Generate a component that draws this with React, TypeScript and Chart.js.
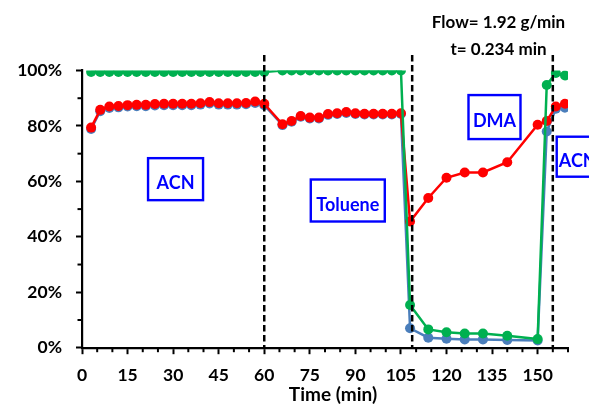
import React, { useEffect, useRef } from 'react';
import { Chart, registerables } from 'chart.js';

Chart.register(...registerables);

// ---- data ----
const timeMin = [
  3, 6, 9, 12, 15, 18, 21, 24, 27, 30, 33, 36, 39, 42, 45, 48, 51, 54, 57, 60,
  66, 69, 72, 75, 78, 81, 84, 87, 90, 93, 96, 99, 102, 105,
  108, 114, 120, 126, 132, 140, 150, 153, 156, 159,
];
const greenPct = [
  99.5, 99.5, 99.5, 99.5, 99.5, 99.5, 99.5, 99.5, 99.5, 99.5, 99.5, 99.5, 99.5, 99.5, 99.5, 99.5, 99.5, 99.5, 99.5, 99.5,
  100, 100, 100, 100, 100, 100, 100, 100, 100, 100, 100, 100, 100, 100,
  15.4, 6.6, 5.6, 5.1, 5.1, 4.3, 3.1, 94.8, 99.1, 98.2,
];
const redPct = [
  79.4, 85.8, 87.0, 87.2, 87.5, 87.6, 87.6, 87.9, 88.0, 88.0, 88.0, 88.0, 88.2, 88.6, 88.2, 88.2, 88.2, 88.3, 88.8, 88.0,
  80.6, 81.8, 83.6, 83.0, 83.0, 84.3, 84.6, 85.0, 84.6, 84.4, 84.4, 84.4, 84.4, 84.6,
  45.5, 54.0, 61.3, 63.2, 63.2, 66.9, 80.4, 81.8, 87.0, 88.0,
];
const bluePct = [
  78.9, 85.3, 86.5, 86.7, 87.0, 87.1, 87.1, 87.4, 87.5, 87.5, 87.5, 87.5, 87.7, 88.1, 87.7, 87.7, 87.7, 87.8, 88.3, 87.5,
  80.3, 81.5, 83.3, 82.7, 82.7, 84.0, 84.3, 84.7, 84.3, 84.1, 84.1, 84.1, 84.1, 84.3,
  7.0, 3.6, 3.2, 3.0, 3.0, 2.8, 2.6, 78.0, 86.2, 86.6,
];
const xMajorTicks = [0, 15, 30, 45, 60, 75, 90, 105, 120, 135, 150];
const yMajorTicks = [0, 20, 40, 60, 80, 100];
const solventSwitchTimes = [60, 108.7, 155];
const solventNames = ['ACN', 'Toluene', 'DMA', 'ACN'];
const noteLines = ['Flow= 1.92 g/min', 't= 0.234 min'];
const xTitle = 'Time (min)';

// ---- annotation placement (data coordinates + box sizes) ----
const solventBoxes = [
  { x: 30.8, y: 60.8, w: 55, h: 42 },
  { x: 87.5, y: 53.1, w: 74, h: 42 },
  { x: 135.8, y: 83.2, w: 52, h: 44 },
  { x: 163.2, y: 68.9, w: 42, h: 40 },
];

const FONT = 'Lato, "Open Sans", sans-serif';
const GREEN = '#00B050';
const RED = '#FF0000';
const BLUE = '#4A7EBB';

const overlayPlugin = {
  id: 'overlay',
  afterDatasetsDraw(chart: any) {
    const { ctx, scales } = chart;
    const x = scales.x;
    const y = scales.y;
    ctx.save();
    // solvent switch dashed lines
    ctx.strokeStyle = '#000';
    ctx.lineWidth = 2.5;
    ctx.setLineDash([6.5, 3.5]);
    solventSwitchTimes.forEach((t) => {
      const px = x.getPixelForValue(t);
      ctx.beginPath();
      ctx.moveTo(px, y.getPixelForValue(105.6));
      ctx.lineTo(px, y.getPixelForValue(0));
      ctx.stroke();
    });
    ctx.setLineDash([]);
    // minor ticks
    ctx.lineWidth = 2;
    x.ticks.forEach((t: any) => {
      if (!xMajorTicks.includes(t.value)) {
        const px = x.getPixelForValue(t.value);
        ctx.beginPath();
        ctx.moveTo(px, x.top);
        ctx.lineTo(px, x.top + 4.5);
        ctx.stroke();
      }
    });
    y.ticks.forEach((t: any) => {
      if (!yMajorTicks.includes(t.value)) {
        const py = y.getPixelForValue(t.value);
        ctx.beginPath();
        ctx.moveTo(y.right, py);
        ctx.lineTo(y.right - 4.5, py);
        ctx.stroke();
      }
    });
    // solvent boxes
    solventBoxes.forEach((b, i) => {
      const cx = x.getPixelForValue(b.x);
      const cy = y.getPixelForValue(b.y);
      ctx.fillStyle = '#fff';
      ctx.fillRect(cx - b.w / 2, cy - b.h / 2, b.w, b.h);
      ctx.strokeStyle = '#0000FF';
      ctx.lineWidth = 2.4;
      ctx.strokeRect(cx - b.w / 2, cy - b.h / 2, b.w, b.h);
      ctx.fillStyle = '#0000FF';
      ctx.font = `bold 18px ${FONT}`;
      ctx.textAlign = 'center';
      ctx.textBaseline = 'alphabetic';
      ctx.fillText(solventNames[i], cx, cy + 10);
    });
    // notes
    ctx.fillStyle = '#000';
    ctx.font = `bold 17px ${FONT}`;
    ctx.textAlign = 'center';
    ctx.fillText(noteLines[0], 498.5, 28.3);
    ctx.fillText(noteLines[1], 498.5, 55);
    // axis title
    ctx.font = `bold 19px ${FONT}`;
    ctx.fillText(xTitle, 333, 401);
    ctx.restore();
  },
};

function makeSet(label: string, vals: number[], color: string) {
  return {
    label,
    data: timeMin.map((t, i) => ({ x: t, y: vals[i] })),
    showLine: true,
    borderColor: color,
    backgroundColor: color,
    pointBackgroundColor: color,
    pointBorderWidth: 0,
    pointRadius: 5,
    borderWidth: 2.5,
    tension: 0,
  };
}

export default function App() {
  const ref = useRef<HTMLCanvasElement>(null);
  useEffect(() => {
    if (!ref.current) return;
    const chart = new Chart(ref.current, {
      type: 'scatter',
      data: {
        datasets: [
          makeSet('Series 3', greenPct, GREEN),
          makeSet('Series 2', redPct, RED),
          makeSet('Series 1', bluePct, BLUE),
        ],
      },
      options: {
        responsive: false,
        animation: false,
        devicePixelRatio: 1,
        layout: { padding: { top: 70.5, right: 21, bottom: 0, left: 0 } },
        plugins: { legend: { display: false }, tooltip: { enabled: false } },
        scales: {
          x: {
            type: 'linear',
            min: 0,
            max: 160,
            afterFit: (s: any) => { s.height = 57.3; },
            afterBuildTicks: (s: any) => {
              const arr = [];
              for (let v = 0; v <= 160; v += 5) arr.push({ value: v });
              s.ticks = arr;
            },
            border: { color: '#000', width: 2.2 },
            grid: {
              drawOnChartArea: false,
              tickLength: 6.5,
              tickWidth: 2,
              tickColor: (c: any) => (xMajorTicks.includes(c.tick?.value) ? '#000' : 'rgba(0,0,0,0)'),
            },
            ticks: {
              autoSkip: false,
              maxRotation: 0,
              padding: 11,
              color: '#000',
              font: { family: FONT, weight: 'bold', size: 17.5 },
              callback: (v: any) => (xMajorTicks.includes(v) ? String(v) : ''),
            },
          },
          y: {
            type: 'linear',
            min: 0,
            max: 100,
            afterFit: (s: any) => { s.width = 82; },
            border: { color: '#000', width: 2.2 },
            grid: {
              drawOnChartArea: false,
              tickLength: 6,
              tickWidth: 2,
              tickColor: (c: any) => (yMajorTicks.includes(c.tick?.value) ? '#000' : 'rgba(0,0,0,0)'),
            },
            ticks: {
              stepSize: 10,
              padding: 14,
              color: '#000',
              font: { family: FONT, weight: 'bold', size: 17.5 },
              callback: (v: any) => (yMajorTicks.includes(v) ? `${v}%` : ''),
            },
          },
        },
      },
      plugins: [overlayPlugin],
    });
    return () => chart.destroy();
  }, []);
  return (
    <div style={{ position: 'fixed', left: 0, top: 0, width: 589, height: 405, background: '#fff' }}>
      <canvas ref={ref} width={589} height={405} />
    </div>
  );
}
